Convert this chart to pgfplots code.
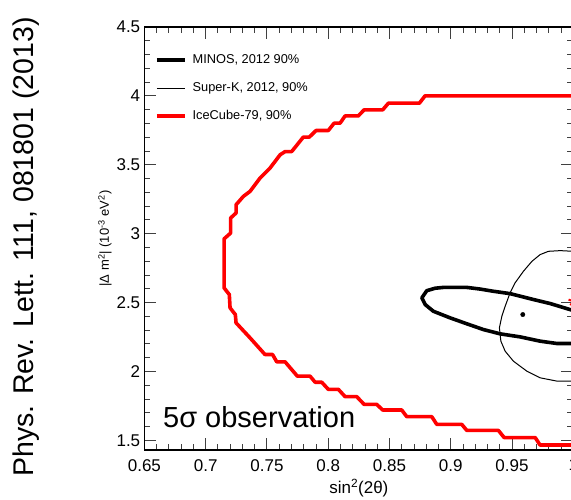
\documentclass[border=0pt]{standalone}
\usepackage{fontspec}
\setmainfont{Liberation Sans}
\usepackage{pgfplots}
\pgfplotsset{compat=1.18}
\begin{document}
\begin{tikzpicture}
\begin{axis}[
  at={(0,0)}, anchor=south west,
  scale only axis, width=428.9pt, height=423pt,
  xmin=0.65, xmax=1.0, ymin=1.43, ymax=4.5,
  xtick={0.65,0.7,0.75,0.8,0.85,0.9,0.95,1},
  ytick={1.5,2,2.5,3,3.5,4,4.5},
  minor x tick num=4, minor y tick num=4,
  xtick pos=both, ytick pos=both,
  tick align=inside,
  major tick length=12pt, minor tick length=6pt,
  axis line style={line width=1.2pt},
  every tick/.style={line width=0.9pt, black!75},
  tick label style={font=\fontsize{17}{20}\selectfont, /pgf/number format/assume math mode=true},
  xticklabel style={inner sep=0pt, yshift=-9pt},
  yticklabel style={inner sep=0pt, xshift=-4pt},
  xlabel={sin\textsuperscript{2}(2θ)},
  xlabel style={at={(axis description cs:0.5,-0.0898)}, anchor=center, font=\fontsize{17}{20}\selectfont, inner sep=0pt},
  ylabel={|Δ m\textsuperscript{2}| (10\textsuperscript{-3} eV\textsuperscript{2})},
  ylabel style={at={(axis description cs:-0.092,0.5)}, anchor=center, font=\fontsize{13}{15}\selectfont, inner sep=0pt},
  legend cell align=left,
  legend image code/.code={\draw[#1] (0pt,0pt) -- (28pt,0pt);},
  legend style={draw=none, fill=none, at={(0,1)}, anchor=north west, xshift=10.6pt, yshift=-26.6pt,
    font=\fontsize{12.8}{15}\selectfont, row sep=15pt, inner sep=0pt, outer sep=0pt,
    nodes={inner sep=0pt, text height=10pt, text depth=3pt},
    /tikz/every odd column/.append style={column sep=6pt}},
]
% MINOS 2012 90%
\addplot[black, line width=3.6pt, line join=round] coordinates {
(1.005,2.437) (1.0,2.442) (0.9811,2.493) (0.9675,2.522) (0.9484,2.565) (0.9348,2.582)
(0.924,2.598) (0.9131,2.61) (0.894,2.61) (0.8872,2.604) (0.8804,2.586) (0.8764,2.534)
(0.8791,2.486) (0.8858,2.437) (0.8995,2.389) (0.9131,2.346) (0.9267,2.304) (0.9403,2.273)
(0.9566,2.251) (0.9729,2.22) (0.9866,2.203) (1.0,2.203) (1.005,2.203)
};
\addlegendentry{MINOS, 2012 90\%}
% Super-K 2012 90%
\addplot[black, line width=1pt, line join=round] coordinates {
(1.005,2.872) (1.0,2.872) (0.9893,2.877) (0.9797,2.872) (0.9729,2.848) (0.9662,2.799)
(0.9593,2.727) (0.9525,2.643) (0.9484,2.570) (0.9444,2.473) (0.9417,2.401) (0.9397,2.317)
(0.9409,2.220) (0.9444,2.147) (0.9511,2.075) (0.9621,2.002) (0.9729,1.954) (0.9866,1.930)
(1.0,1.930) (1.005,1.930)
};
\addlegendentry{Super-K, 2012, 90\%}
% IceCube-79 90%
\addplot[red, line width=3.6pt, line join=round] coordinates {
(1.005,4.0) (0.879,4.0) (0.8744,3.947) (0.8491,3.947) (0.8445,3.899) (0.8293,3.899)
(0.8246,3.855) (0.8138,3.855) (0.8097,3.802) (0.8048,3.802) (0.8001,3.749) (0.7901,3.749)
(0.7846,3.701) (0.7797,3.701) (0.7702,3.596) (0.7648,3.596) (0.7607,3.572) (0.7525,3.476)
(0.7444,3.404) (0.7362,3.307) (0.7307,3.270) (0.7248,3.210) (0.7248,3.150) (0.7204,3.114)
(0.7204,3.005) (0.715,2.962) (0.715,2.607) (0.7193,2.558) (0.7199,2.462) (0.7242,2.413)
(0.7248,2.353) (0.7362,2.244) (0.7484,2.123) (0.7546,2.123) (0.758,2.070) (0.7648,2.070)
(0.7748,1.966) (0.7852,1.966) (0.7893,1.922) (0.7947,1.922) (0.8001,1.870) (0.8083,1.870)
(0.8138,1.817) (0.8233,1.817) (0.8293,1.761) (0.8396,1.761) (0.8445,1.720) (0.86,1.720)
(0.8641,1.672) (0.8845,1.672) (0.8886,1.616) (0.909,1.616) (0.9131,1.572) (0.9389,1.572)
(0.9436,1.520) (0.9689,1.520) (0.9729,1.466) (1.005,1.466)
};
\addlegendentry{IceCube-79, 90\%}
% best fit points
\addplot[only marks, mark=*, mark size=2.2pt, black, forget plot] coordinates {(0.9588,2.413)};
\addplot[only marks, mark=star, mark size=5pt, red, line width=2pt, forget plot] coordinates {(1.0,2.51)};
\node[anchor=base west, inner sep=0pt, font=\fontsize{29}{32}\selectfont] at (rel axis cs:0,0) [xshift=18.6pt, yshift=23pt] {5σ observation};
\end{axis}
\node[rotate=90, inner sep=0pt, font=\fontsize{28.5}{32}\selectfont] at (-118.4pt,203pt) {Phys. Rev. Lett. 111, 081801 (2013)};
\pgfresetboundingbox
\useasboundingbox (-144.4pt,-49pt) rectangle (426.6pt,450pt);
\end{tikzpicture}
\end{document}
